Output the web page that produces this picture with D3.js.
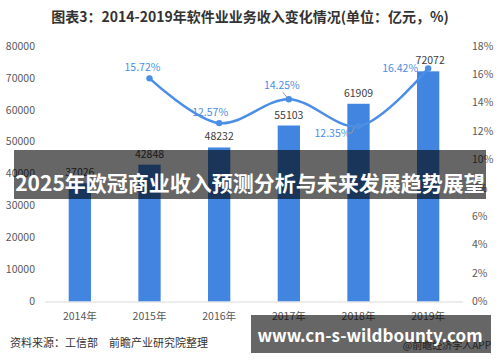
<!DOCTYPE html>
<html>
<head>
<meta charset="utf-8">
<script src="https://cdn.jsdelivr.net/npm/d3@7"></script>
<style>
  body { margin: 0; background: #fff; }
  svg { font-family: "Noto Sans CJK SC", "Liberation Sans", sans-serif; }
</style>
</head>
<body>
<div id="chart"></div>
<script>
var years = ["2014年", "2015年", "2016年", "2017年", "2018年", "2019年"];
var revenue = [37026, 42848, 48232, 55103, 61909, 72072];
var growth = [null, 15.72, 12.57, 14.25, 12.35, 16.42];
var leftTicks = [0, 10000, 20000, 30000, 40000, 50000, 60000, 70000, 80000];
var rightTicks = [0, 2, 4, 6, 8, 10, 12, 14, 16, 18];

var W = 500, H = 362,
    marg_l = 45, marg_r = 37;

var svg = d3.select("#chart").append("svg")
    .attr("width", W).attr("height", H);

// title
svg.append("text")
    .attr("x", 250).attr("y", 22)
    .attr("text-anchor", "middle")
    .style("font-size", "14px").style("font-weight", "bold")
    .attr("fill", "#333")
    .text("图表3：2014-2019年软件业业务收入变化情况(单位：亿元，%)");

var x = d3.scaleBand()
    .domain(years)
    .range([marg_l, W - marg_r])
    .paddingInner(0.68).paddingOuter(0.34);

var y = d3.scaleLinear().domain([0, 80000]).range([301.5, 46]);
var y2 = d3.scaleLinear().domain([0, 18]).range([301.5, 46]);

// left axis labels
svg.append("g").selectAll("text").data(leftTicks).join("text")
    .attr("x", 35).attr("y", d => y(d)).attr("dy", "0.35em")
    .attr("text-anchor", "end")
    .style("font-size", "10.5px").attr("fill", "#595959")
    .text(d => d);

// right axis labels
svg.append("g").selectAll("text").data(rightTicks).join("text")
    .attr("x", 472).attr("y", d => y2(d)).attr("dy", "0.35em")
    .style("font-size", "10.5px").attr("fill", "#595959")
    .text(d => d + "%");

// bars
svg.append("g").selectAll("rect").data(revenue).join("rect")
    .attr("x", (d, i) => x(years[i]))
    .attr("width", x.bandwidth())
    .attr("y", d => y(d))
    .attr("height", d => y(0) - y(d))
    .attr("fill", "#4285e0");

// baseline
svg.append("line")
    .attr("x1", marg_l).attr("x2", W - marg_r)
    .attr("y1", y(0) + 0.5).attr("y2", y(0) + 0.5)
    .attr("stroke", "#d9d9d9");

// x labels
svg.append("g").selectAll("text").data(years).join("text")
    .attr("x", d => x(d) + x.bandwidth() / 2)
    .attr("y", 320)
    .attr("text-anchor", "middle")
    .style("font-size", "10.5px").attr("fill", "#595959")
    .text(d => d);

// bar values
svg.append("g").selectAll("text").data(revenue).join("text")
    .attr("x", (d, i) => x(years[i]) + x.bandwidth() / 2 + (i == 5 ? 2 : 0))
    .attr("y", d => y(d) - 7)
    .attr("text-anchor", "middle")
    .style("font-size", "10.5px").attr("fill", "#404040")
    .text(d => d);

// growth line
var pts = growth.map((g, i) => [x(years[i]) + x.bandwidth() / 2, g]).filter(p => p[1] != null);
svg.append("path")
    .datum(pts)
    .attr("fill", "none")
    .attr("stroke", "#4a8ee6")
    .attr("stroke-width", 2.5)
    .attr("d", d3.line()
        .x(d => d[0])
        .y(d => y2(d[1]))
        .curve(d3.curveCatmullRom));

svg.append("g").selectAll("circle").data(pts).join("circle")
    .attr("cx", d => d[0]).attr("cy", d => y2(d[1]))
    .attr("r", 3.2).attr("fill", "#4a8ee6");

// growth labels (offsets relative to point)
var offs = [[-7, -7], [-9, -7], [-7, -10], [-26, 11], [-28, 4]];
svg.append("g").selectAll("text").data(pts).join("text")
    .attr("x", (d, i) => d[0] + offs[i][0])
    .attr("y", (d, i) => y2(d[1]) + offs[i][1])
    .attr("text-anchor", "middle")
    .style("font-size", "10.5px").attr("fill", "#4a8ee6")
    .text(d => d[1].toFixed(2) + "%");

// leader lines for 2017 and 2018
var p17 = pts[2], p18 = pts[3];
svg.append("path")
    .attr("d", "M" + (p17[0] - 6) + "," + (y2(p17[1]) - 7) + "l4,5")
    .attr("stroke", "#999").attr("fill", "none");
svg.append("path")
    .attr("d", "M" + (p18[0] - 11) + "," + (y2(p18[1]) + 7) + "l4,0l3,-6")
    .attr("stroke", "#999").attr("fill", "none");

// footer
svg.append("text")
    .attr("x", 10).attr("y", 347)
    .style("font-size", "11px").attr("fill", "#333")
    .text("资料来源：工信部　前瞻产业研究院整理");
svg.append("text")
    .attr("x", 491).attr("y", 349)
    .attr("text-anchor", "end")
    .style("font-size", "10px").attr("fill", "#555")
    .text("@前瞻经济学人APP");

// overlay banners
svg.append("rect")
    .attr("x", 14).attr("y", 150).attr("width", 472).attr("height", 49)
    .attr("fill", "rgba(0,0,0,0.6)");
svg.append("text")
    .attr("x", 250).attr("y", 191)
    .attr("text-anchor", "middle")
    .style("font-size", "21px").style("font-weight", "bold")
    .attr("fill", "#fff")
    .text("2025年欧冠商业收入预测分析与未来发展趋势展望");

svg.append("rect")
    .attr("x", 251).attr("y", 315).attr("width", 240).attr("height", 38)
    .attr("fill", "rgba(0,0,0,0.6)");
svg.append("text")
    .attr("x", 370).attr("y", 342)
    .attr("text-anchor", "middle")
    .style("font-size", "17px").style("font-weight", "bold")
    .attr("fill", "#fff")
    .text("www.cn-s-wildbounty.com");
</script>
</body>
</html>
